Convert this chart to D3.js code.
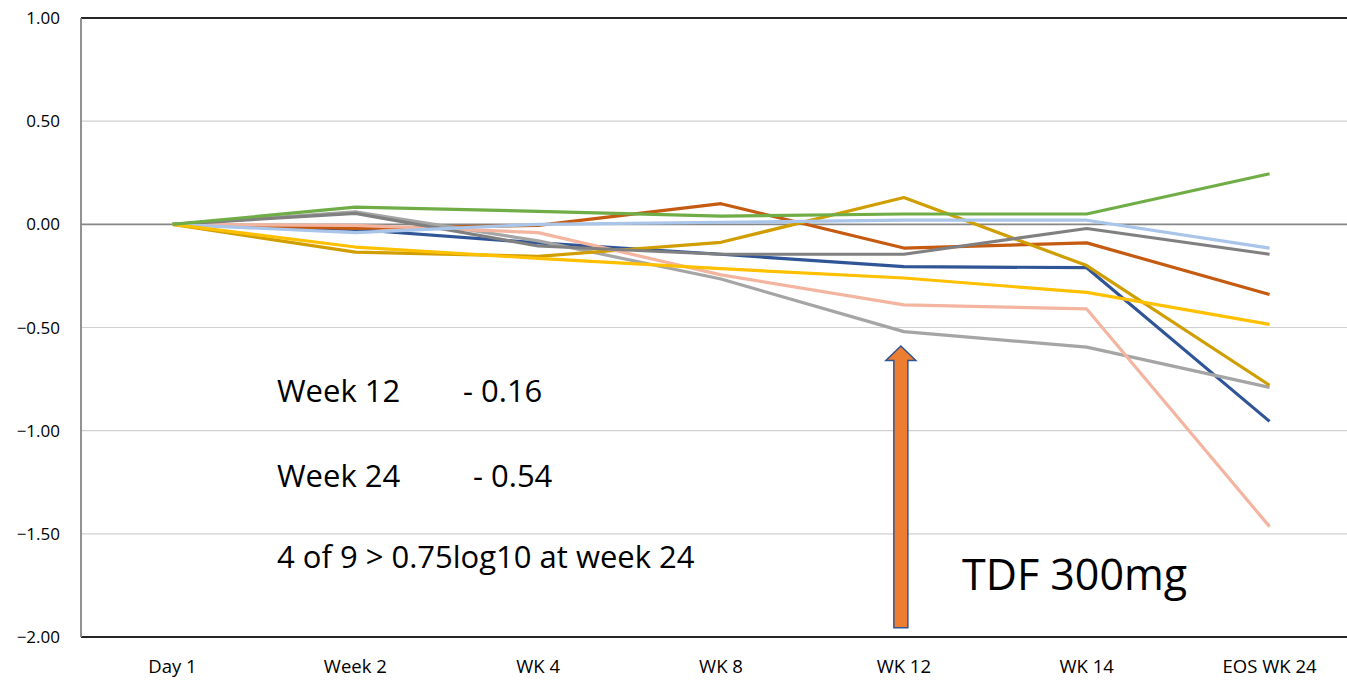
<!DOCTYPE html>
<html>
<head>
<meta charset="utf-8">
<title>Change from Day 1</title>
<script src="https://cdnjs.cloudflare.com/ajax/libs/d3/7.8.5/d3.min.js"></script>
<style>
  body { margin: 0; background: #fff; }
  svg { display: block; font-family: "Open Sans", "Noto Sans", sans-serif; }
</style>
</head>
<body>
<svg id="chart" width="1347" height="680"></svg>
<script>
// categories on the x axis
var visits = ["Day 1", "Week 2", "WK 4", "WK 8", "WK 12", "WK 14", "EOS WK 24"];
var yTicks = [1, 0.5, 0, -0.5, -1, -1.5, -2];

// one array per subject (change from Day 1)
var blueDark  = [0, -0.025, -0.09, -0.145, -0.205, -0.21, -0.955];
var orange    = [0, -0.02, -0.005, 0.10, -0.115, -0.09, -0.34];
var grayLight = [0, 0.06, -0.08, -0.265, -0.52, -0.595, -0.79];
var gold      = [0, -0.135, -0.155, -0.087, 0.13, -0.20, -0.78];
var salmon    = [0, -0.005, -0.04, -0.245, -0.39, -0.41, -1.465];
var grayMid   = [0, 0.053, -0.105, -0.145, -0.145, -0.02, -0.145];
var blueLight = [0, -0.04, 0.0, 0.01, 0.02, 0.02, -0.115];
var yellow    = [0, -0.11, -0.165, -0.215, -0.26, -0.33, -0.485];
var green     = [0, 0.083, 0.063, 0.04, 0.05, 0.05, 0.245];

var series = [
  {values: blueDark,  color: "#2F5597"},
  {values: orange,    color: "#C55A11"},
  {values: grayLight, color: "#A5A5A5"},
  {values: gold,      color: "#D09E00"},
  {values: salmon,    color: "#F4B5A0"},
  {values: grayMid,   color: "#808080"},
  {values: blueLight, color: "#A9C5EA"},
  {values: yellow,    color: "#FFC000"},
  {values: green,     color: "#70AD47"}
];

(function() {
  var svg = d3.select("#chart");
  var plotL = 81, plotR = 1361, plotT = 18, plotB = 637;

  var x = d3.scalePoint().domain(visits).range([plotL, plotR]).padding(0.5);
  var y = d3.scaleLinear().domain([-2, 1]).range([plotB, plotT]);

  // gridlines
  svg.append("g").selectAll("line")
    .data(yTicks)
    .enter().append("line")
      .attr("x1", plotL).attr("x2", plotR)
      .attr("y1", function(d) { return y(d); })
      .attr("y2", function(d) { return y(d); })
      .attr("stroke", function(d) { return d === 0 ? "#868686" : (d === 1 || d === -2 ? "#262626" : "#D0D0D0"); })
      .attr("stroke-width", function(d) { return d === 0 || d === 1 || d === -2 ? 1.8 : 1.2; });

  // left axis line
  svg.append("line")
    .attr("x1", plotL).attr("x2", plotL)
    .attr("y1", plotT).attr("y2", plotB)
    .attr("stroke", "#868686").attr("stroke-width", 1.8);

  // y tick labels
  svg.append("g").selectAll("text")
    .data(yTicks)
    .enter().append("text")
      .attr("x", 60)
      .attr("y", function(d) { return y(d) + 6; })
      .attr("text-anchor", "end")
      .attr("font-size", 17)
      .attr("fill", "#000")
      .text(function(d) { return d3.format(".2f")(d); });

  // x labels
  svg.append("g").selectAll("text")
    .data(visits)
    .enter().append("text")
      .attr("x", function(d) { return x(d); })
      .attr("y", 673)
      .attr("text-anchor", "middle")
      .attr("font-size", 18.5)
      .attr("fill", "#000")
      .text(function(d) { return d; });

  // lines
  var line = d3.line()
    .x(function(d, i) { return x(visits[i]); })
    .y(function(d) { return y(d); });

  svg.append("g").selectAll("path")
    .data(series)
    .enter().append("path")
      .attr("d", function(s) { return line(s.values); })
      .attr("fill", "none")
      .attr("stroke", function(s) { return s.color; })
      .attr("stroke-width", 3.2)
      .attr("stroke-linejoin", "round");

  // TDF arrow under WK 12
  var ax = x("WK 12") - 3;
  var tipY = y(-0.59), headY = y(-0.66), baseY = y(-1.955);
  var arrowPts = [
    [ax, tipY], [ax + 15, headY], [ax + 7, headY], [ax + 7, baseY],
    [ax - 7, baseY], [ax - 7, headY], [ax - 15, headY]
  ];
  svg.append("path")
    .attr("d", d3.line()(arrowPts) + "Z")
    .attr("fill", "#ED7D31")
    .attr("stroke", "#2F5597")
    .attr("stroke-width", 1.5);

  // annotation text
  var notes = svg.append("g").attr("font-size", 31).attr("fill", "#000");
  notes.append("text").attr("x", 277).attr("y", 402).text("Week 12");
  notes.append("text").attr("x", 463).attr("y", 402).text("- 0.16");
  notes.append("text").attr("x", 277).attr("y", 487).text("Week 24");
  notes.append("text").attr("x", 473).attr("y", 487).text("- 0.54");
  notes.append("text").attr("x", 277).attr("y", 568).text("4 of 9 > 0.75log10 at week 24");

  svg.append("text")
    .attr("x", 962).attr("y", 590)
    .attr("font-size", 43)
    .attr("fill", "#000")
    .text("TDF 300mg");
})();
</script>
</body>
</html>
